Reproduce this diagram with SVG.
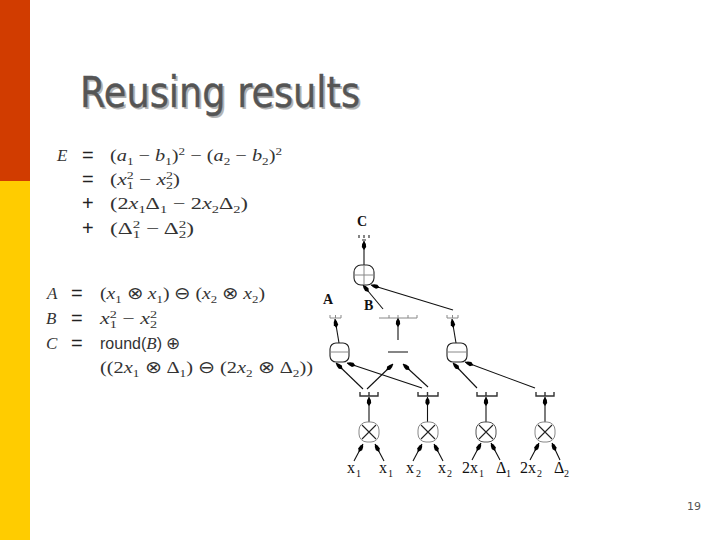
<svg xmlns="http://www.w3.org/2000/svg" width="720" height="540" viewBox="0 0 720 540">
<style>
.m{font-family:"Liberation Serif",serif;font-size:17px;fill:#333}
.i{font-style:italic}
.s{font-size:11px}
.o{font-family:"Liberation Sans",sans-serif;font-size:20px;fill:#222}
.r{font-family:"Liberation Sans",sans-serif;font-size:16px;fill:#333}
.l{font-family:"Liberation Serif",serif;font-size:16px;fill:#111}
.l.s{font-size:10px}
.b{font-family:"Liberation Serif",serif;font-size:14px;font-weight:bold;fill:#111}
.c{fill:none;stroke:#111;stroke-width:1.1;marker-end:url(#a)}
.g{fill:none;stroke:#888;stroke-width:1}
.d{fill:none;stroke:#555;stroke-width:1}
.k{fill:none;stroke:#222;stroke-width:1.1}
.h{fill:none;stroke:#333;stroke-width:1.4}
.t{font-family:"DejaVu Sans",sans-serif;font-size:42px}
</style>
<defs>
<marker id="a" markerUnits="userSpaceOnUse" markerWidth="10" markerHeight="6" refX="9" refY="3" orient="auto"><path d="M0 3L3 .8Q7 1 9 3Q7 5 3 5.200Z" fill="#000"/></marker>
</defs>
<rect width="720" height="540" fill="#fff"/>
<rect x="0" y="0" width="30" height="181" fill="#d13c00"/>
<rect x="0" y="181" width="30" height="359" fill="#ffcc00"/>
<text class="t" x="82" y="109" fill="#b4b4b4" textLength="280" lengthAdjust="spacingAndGlyphs">Reusing results</text>
<text class="t" x="80" y="107" fill="#555" stroke="#555" stroke-width=".4" textLength="280" lengthAdjust="spacingAndGlyphs">Reusing results</text>

<g id="eq1">
<text class="m i" x="57" y="161">E</text><text class="o" x="82" y="162">=</text>
<text class="m" x="110" y="161" textLength="172" lengthAdjust="spacingAndGlyphs">(<tspan class="i">a</tspan><tspan class="s" dy="4">1</tspan><tspan dy="-4"> − </tspan><tspan class="i">b</tspan><tspan class="s" dy="4">1</tspan><tspan dy="-4">)</tspan><tspan class="s" dy="-6">2</tspan><tspan dy="6"> − (</tspan><tspan class="i">a</tspan><tspan class="s" dy="4">2</tspan><tspan dy="-4"> − </tspan><tspan class="i">b</tspan><tspan class="s" dy="4">2</tspan><tspan dy="-4">)</tspan><tspan class="s" dy="-6">2</tspan></text>
<text class="o" x="82" y="186">=</text>
<text class="m" x="110" y="185" textLength="70" lengthAdjust="spacingAndGlyphs">(<tspan class="i">x</tspan><tspan class="s" dy="-6">2</tspan><tspan class="s" dx="-5.500" dy="10">1</tspan><tspan dy="-4"> − </tspan><tspan class="i">x</tspan><tspan class="s" dy="-6">2</tspan><tspan class="s" dx="-5.500" dy="10">2</tspan><tspan dy="-4">)</tspan></text>
<text class="o" x="82" y="210">+</text>
<text class="m" x="110" y="209" textLength="138" lengthAdjust="spacingAndGlyphs">(2<tspan class="i">x</tspan><tspan class="s" dy="4">1</tspan><tspan dy="-4">Δ</tspan><tspan class="s" dy="4">1</tspan><tspan dy="-4"> − 2</tspan><tspan class="i">x</tspan><tspan class="s" dy="4">2</tspan><tspan dy="-4">Δ</tspan><tspan class="s" dy="4">2</tspan><tspan dy="-4">)</tspan></text>
<text class="o" x="82" y="235">+</text>
<text class="m" x="110" y="234" textLength="84" lengthAdjust="spacingAndGlyphs">(Δ<tspan class="s" dy="-6">2</tspan><tspan class="s" dx="-5.500" dy="10">1</tspan><tspan dy="-4"> − Δ</tspan><tspan class="s" dy="-6">2</tspan><tspan class="s" dx="-5.500" dy="10">2</tspan><tspan dy="-4">)</tspan></text>
</g>

<g id="eq2">
<text class="m i" x="47" y="299">A</text><text class="o" x="71" y="300">=</text>
<text class="m" x="100" y="299" textLength="165" lengthAdjust="spacingAndGlyphs">(<tspan class="i">x</tspan><tspan class="s" dy="4">1</tspan><tspan dy="-4"> ⊗ </tspan><tspan class="i">x</tspan><tspan class="s" dy="4">1</tspan><tspan dy="-4">) ⊖ (</tspan><tspan class="i">x</tspan><tspan class="s" dy="4">2</tspan><tspan dy="-4"> ⊗ </tspan><tspan class="i">x</tspan><tspan class="s" dy="4">2</tspan><tspan dy="-4">)</tspan></text>
<text class="m i" x="46" y="324">B</text><text class="o" x="71" y="325">=</text>
<text class="m" x="100" y="324" textLength="57" lengthAdjust="spacingAndGlyphs"><tspan class="i">x</tspan><tspan class="s" dy="-6">2</tspan><tspan class="s" dx="-5.500" dy="10">1</tspan><tspan dy="-4"> − </tspan><tspan class="i">x</tspan><tspan class="s" dy="-6">2</tspan><tspan class="s" dx="-5.500" dy="10">2</tspan></text>
<text class="m i" x="46" y="349">C</text><text class="o" x="71" y="350">=</text>
<text class="r" x="100" y="349">round(<tspan class="m i">B</tspan>) <tspan class="m">⊕</tspan></text>
<text class="m" x="100" y="373" textLength="213" lengthAdjust="spacingAndGlyphs">((2<tspan class="i">x</tspan><tspan class="s" dy="4">1</tspan><tspan dy="-4"> ⊗ Δ</tspan><tspan class="s" dy="4">1</tspan><tspan dy="-4">) ⊖ (2</tspan><tspan class="i">x</tspan><tspan class="s" dy="4">2</tspan><tspan dy="-4"> ⊗ Δ</tspan><tspan class="s" dy="4">2</tspan><tspan dy="-4">))</tspan></text>
</g>

<g id="connectors">
<path class="c" d="M364 265V241"/>
<path class="c" d="M383 309L363 285"/>
<path class="c" d="M453 310L371 285"/>
<path class="c" d="M339 343L335 319"/>
<path class="c" d="M398 340V318"/>
<path class="c" d="M456 343L452 319"/>
<path class="c" d="M367 389L393 364"/>
<path class="c" d="M428 387L403 364"/>
<path class="c" d="M363 389L336 363"/>
<path class="c" d="M422 388L347 363"/>
<path class="c" d="M477 388L453 363"/>
<path class="c" d="M535 388L465 362"/>
<path class="c" d="M369 422V397"/>
<path class="c" d="M427.500 422V397"/>
<path class="c" d="M486 422V397"/>
<path class="c" d="M545 422V397"/>
<path class="c" d="M354 461L363 444"/>
<path class="c" d="M384 461L375 444"/>
<path class="c" d="M413 461L422 444"/>
<path class="c" d="M443 461L434 444"/>
<path class="c" d="M472 460L481 443"/>
<path class="c" d="M500 460L491 443"/>
<path class="c" d="M530 460L539 443"/>
<path class="c" d="M560 460L552 443"/>
</g>

<g id="node-c"><text class="b" x="357" y="226">C</text><path class="k" d="M359 235V238M369 235V238M362 240H366M364 235V238"/><rect class="k" x="354" y="265" width="20" height="20" rx="7"/><path class="g" d="M354 275H374M364 265V285"/></g>
<g id="node-a"><text class="b" x="323" y="304">A</text><path class="g" d="M330 315V318H341V315M335.500 315V318"/><rect class="k" x="330" y="343" width="19" height="19" rx="6"/><path class="g" d="M330 352H349"/></g>
<g id="node-b"><text class="b" x="364" y="310">B</text><path class="g" d="M379 318H417M389 315V318M398 315V318M408 315V318M417 315V318"/><path class="k" d="M388 352H408"/></g>
<g id="node-sub2"><path class="g" d="M447 315V318H458V315M452.500 315V318"/><rect class="k" x="447" y="343" width="20" height="19" rx="6"/><path class="g" d="M447 352H467"/></g>

<g id="mul1"><path class="h" d="M360 392V396H378V392M369 392V396"/><rect class="g" x="359" y="422" width="20" height="20" rx="8"/><path class="k" d="M362 425L376 439M376 425L362 439"/></g>
<g id="mul2"><path class="h" d="M418 392V396H438V392M427.500 392V396"/><rect class="g" x="418" y="422" width="20" height="20" rx="8"/><path class="k" d="M421 425L435 439M435 425L421 439"/></g>
<g id="mul3"><path class="h" d="M477 392V396H497V392M486 392V396"/><rect class="d" x="476" y="422" width="20" height="20" rx="8"/><path class="k" d="M479 425L493 439M493 425L479 439"/></g>
<g id="mul4"><path class="h" d="M536 392V396H554V392M545 392V396"/><rect class="g" x="535" y="422" width="20" height="20" rx="8"/><path class="k" d="M538 425L552 439M552 425L538 439"/></g>

<g id="inputs">
<text class="l" x="347" y="473">x</text><text class="l s" x="356" y="477">1</text>
<text class="l" x="379" y="473">x</text><text class="l s" x="388" y="477">1</text>
<text class="l" x="406" y="473">x</text><text class="l s" x="416" y="477">2</text>
<text class="l" x="438" y="473">x</text><text class="l s" x="447" y="477">2</text>
<text class="l" x="462" y="473">2x</text><text class="l s" x="479" y="477">1</text>
<text class="l" x="496" y="473">Δ</text><text class="l s" x="506" y="477">1</text>
<text class="l" x="520" y="473">2x</text><text class="l s" x="537" y="477">2</text>
<text class="l" x="554" y="473">Δ</text><text class="l s" x="564" y="477">2</text>
</g>
<text x="687" y="510" font-family="'DejaVu Sans',sans-serif" font-size="11" fill="#555">19</text>
</svg>
